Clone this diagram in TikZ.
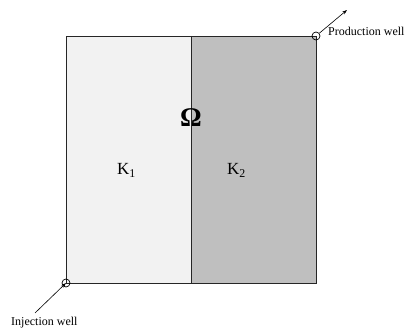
\documentclass[tikz,border=0pt]{standalone}
\usepackage{fontspec}
\setmainfont{Liberation Serif}
\usetikzlibrary{arrows.meta}
\begin{document}
\begin{tikzpicture}[x=1pt,y=-1pt,
  region/.style={draw=black!85,line width=0.9pt},
  well/.style={draw=black,line width=0.7pt,fill=none},
  wellarrow/.style={draw=black,line width=0.6pt,-{Stealth[length=5pt,width=3.5pt]}},
  lbl/.style={font=\fontsize{12}{14}\selectfont,inner sep=0pt}]
\useasboundingbox (0,0) rectangle (405,334);
\fill[black!5] (66,36) rectangle (191,283);
\fill[black!25] (191,36) rectangle (316,283);
\draw[region] (66,36) rectangle (316,283);
\draw[region] (191,36) -- (191,283);
\node[font=\fontsize{27}{30}\selectfont\bfseries,inner sep=0pt] (om) at (191,118) {Ω};
\node[font=\fontsize{17}{20}\selectfont,inner sep=0pt,anchor=base west] (k1) at (117,175) {K\textsubscript{1}};
\node[font=\fontsize{17}{20}\selectfont,inner sep=0pt,anchor=base west] (k2) at (227,175) {K\textsubscript{2}};
\node[well,circle,minimum size=8pt,inner sep=0pt] (pw) at (316,36) {};
\node[well,circle,minimum size=8pt,inner sep=0pt] (iw) at (66,283) {};
\coordinate (pend) at (347,10);
\coordinate (istart) at (35,313);
\draw[wellarrow] (pw) -- (pend);
\draw[wellarrow] (istart) -- (iw.center);
\node[lbl,anchor=base west] (pl) at (328,36) {Production well};
\node[lbl,anchor=base west] (il) at (11,326) {Injection well};
\end{tikzpicture}
\end{document}
